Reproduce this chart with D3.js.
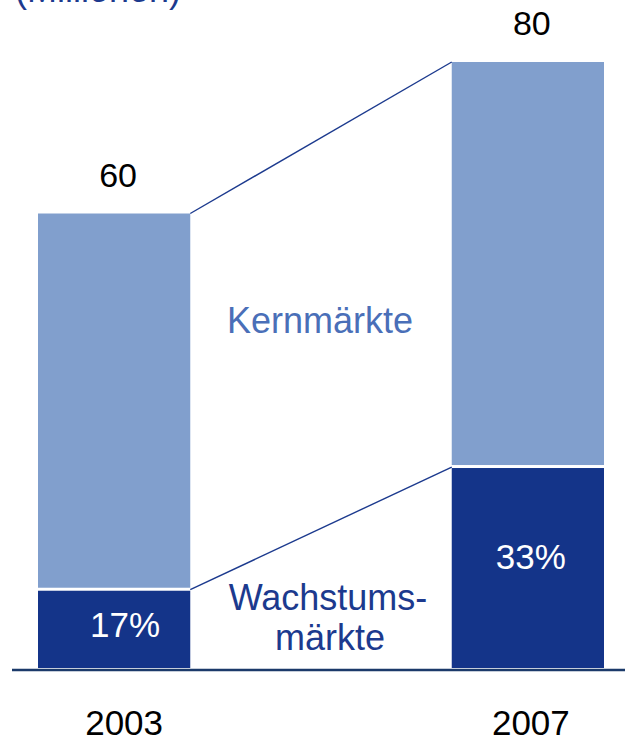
<!DOCTYPE html>
<html>
<head>
<meta charset="utf-8">
<script src="https://cdn.jsdelivr.net/npm/d3@7"></script>
<style>
  html, body { margin: 0; padding: 0; background: #fff; }
  svg { display: block; font-family: Arial, "Liberation Sans", sans-serif; }
</style>
</head>
<body>
<svg id="chart" width="625" height="742"></svg>
<script>
const years = ["2003", "2007"];
const totals = [60, 80];
const growthShare = [17, 33]; // percent Wachstumsmärkte
const totalLabels = ["60", "80"];
const shareLabels = ["17%", "33%"];

const width = 625, height = 742;
const svg = d3.select("#chart");

const x = d3.scaleBand().domain(years).range([38, 604]).paddingInner(0.632).paddingOuter(0);
const y = d3.scaleLinear().domain([0, 80]).range([668, 62]);

const light = "#819fcd", dark = "#143489", navy = "#1c3a8e";

const data = years.map((yr, i) => ({
  year: yr, total: totals[i], growth: totals[i] * growthShare[i] / 100,
  totalLabel: totalLabels[i], shareLabel: shareLabels[i]
}));

// bars - growth (dark)
svg.selectAll(".dark").data(data).enter().append("rect")
  .attr("x", d => x(d.year)).attr("width", x.bandwidth())
  .attr("y", d => y(d.growth)).attr("height", d => y(0) - y(d.growth))
  .attr("fill", dark);

// bars - core (light), white gap of 3px
svg.selectAll(".light").data(data).enter().append("rect")
  .attr("x", d => x(d.year)).attr("width", x.bandwidth())
  .attr("y", d => y(d.total)).attr("height", d => y(d.growth) - y(d.total) - 3)
  .attr("fill", light);

// connector lines
const a = data[0], b = data[1];
const xr = x(a.year) + x.bandwidth(), xl = x(b.year);
svg.append("line").attr("x1", xr).attr("y1", y(a.total)).attr("x2", xl).attr("y2", y(b.total))
  .attr("stroke", navy).attr("stroke-width", 1.4);
svg.append("line").attr("x1", xr).attr("y1", y(a.growth) - 1).attr("x2", xl).attr("y2", y(b.growth) - 1)
  .attr("stroke", navy).attr("stroke-width", 1.4);

// baseline
svg.append("line").attr("x1", 12).attr("x2", 625).attr("y1", 670).attr("y2", 670)
  .attr("stroke", "#1b3a6a").attr("stroke-width", 2.5);

// total labels
svg.selectAll(".tot").data(data).enter().append("text")
  .attr("x", d => x(d.year) + x.bandwidth() / 2 + 4)
  .attr("y", d => y(d.total) - 27)
  .attr("text-anchor", "middle").attr("font-size", 34).attr("fill", "#000")
  .text(d => d.totalLabel);

// share labels
svg.selectAll(".share").data(data).enter().append("text")
  .attr("x", (d, i) => x(d.year) + x.bandwidth() / 2 + (i === 0 ? 11 : 3))
  .attr("y", (d, i) => i === 0 ? 637 : 569)
  .attr("text-anchor", "middle").attr("font-size", 35).attr("fill", "#fff")
  .text(d => d.shareLabel);

// year axis labels
svg.selectAll(".yr").data(data).enter().append("text")
  .attr("x", (d, i) => x(d.year) + x.bandwidth() / 2 + (i === 0 ? 10 : 3))
  .attr("y", 735)
  .attr("text-anchor", "middle").attr("font-size", 35).attr("fill", "#000")
  .text(d => d.year);

// segment labels
svg.append("text").attr("x", 320).attr("y", 333).attr("text-anchor", "middle")
  .attr("font-size", 36).attr("fill", "#4a6fb8").text("Kernmärkte");
svg.append("text").attr("x", 328).attr("y", 610).attr("text-anchor", "middle")
  .attr("font-size", 36).attr("fill", navy).text("Wachstums-");
svg.append("text").attr("x", 330).attr("y", 650).attr("text-anchor", "middle")
  .attr("font-size", 36).attr("fill", navy).text("märkte");

// unit label (cut off at top, as in the reference)
svg.append("text").attr("x", 15).attr("y", 2).attr("font-size", 36).attr("fill", navy)
  .text("(Millionen)");
</script>
</body>
</html>
